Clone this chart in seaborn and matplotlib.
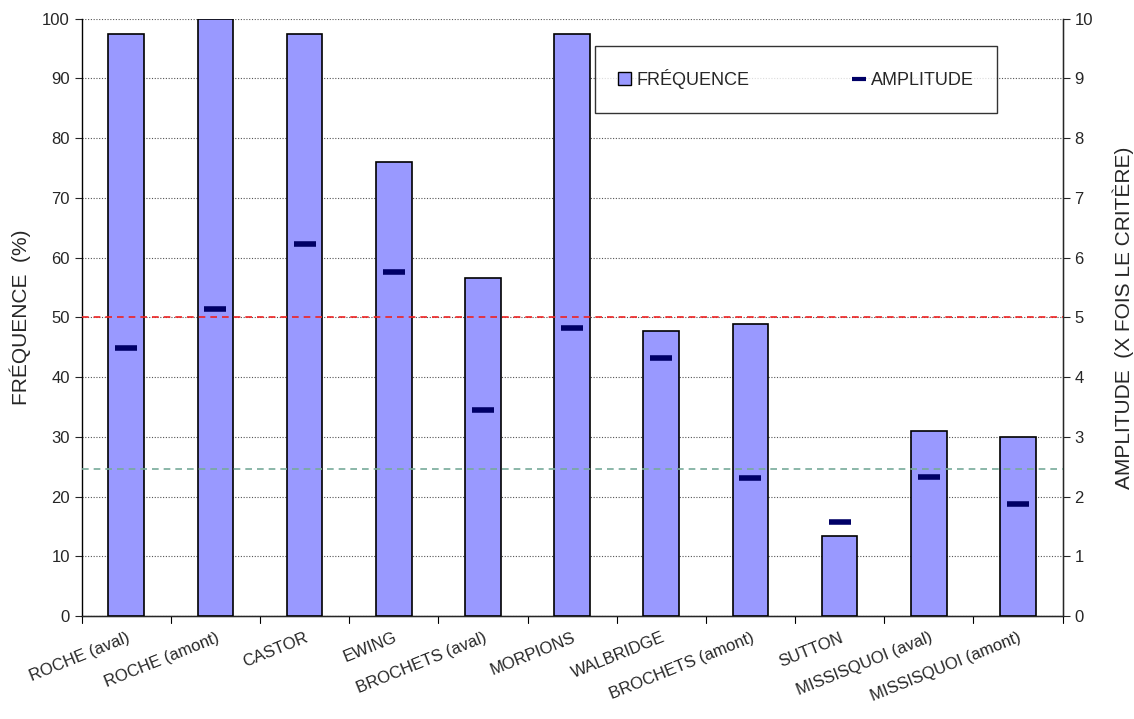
import matplotlib
matplotlib.use("Agg")
import matplotlib.pyplot as plt
import seaborn as sns
import pandas as pd
import numpy as np
from matplotlib.lines import Line2D
from matplotlib.patches import Patch

# stations, frequency (%) and amplitude (x criterion)
stations = ["ROCHE (aval)", "ROCHE (amont)", "CASTOR", "EWING", "BROCHETS (aval)",
            "MORPIONS", "WALBRIDGE", "BROCHETS (amont)", "SUTTON",
            "MISSISQUOI (aval)", "MISSISQUOI (amont)"]
frequence = [97.5, 100, 97.5, 76, 56.6, 97.5, 47.7, 48.9, 13.4, 31.0, 30.0]
amplitude = [4.49, 5.14, 6.23, 5.76, 3.45, 4.82, 4.32, 2.31, 1.57, 2.33, 1.88]
seuil_rouge = 50
seuil_vert = 24.6

df = pd.DataFrame({"station": stations, "frequence": frequence, "amplitude": amplitude})

sns.set_style("white")
plt.rcParams['font.family'] = ['Liberation Sans', 'DejaVu Sans']

fig, ax = plt.subplots(figsize=(11.34, 7.19), dpi=100)
fig.subplots_adjust(left=0.072, right=0.937, top=0.974, bottom=0.143)

sns.barplot(data=df, x="station", y="frequence", color="#9999FF", saturation=1,
            edgecolor="black", linewidth=1.2, width=0.4, ax=ax, zorder=3)
ax.set_ylim(0, 100)
ax.set_xlim(-0.5, len(stations) - 0.5)
ax.set_yticks(np.arange(0, 101, 10))
ax.yaxis.grid(True, color="#555555", linestyle=(0, (1, 1.5)), linewidth=0.8)
ax.set_axisbelow(True)
ax.axhline(seuil_rouge, color="#ee2222", linestyle=(0, (4, 3)), linewidth=1.2, zorder=4)
ax.axhline(seuil_vert, color="#77aa99", linestyle=(0, (4, 3)), linewidth=1.2, zorder=4)

ax.set_xlabel("")
ax.set_ylabel("FRÉQUENCE  (%)", fontsize=15, labelpad=8)
ax.set_xticks(np.arange(len(stations)))
ax.set_xticklabels(stations, rotation=22, ha="right", rotation_mode="anchor", fontsize=12)
ax.tick_params(axis="x", length=0, pad=10)
ax.tick_params(axis="y", labelsize=12, length=5, direction="out", left=True)
# tick marks between categories
for xb in np.arange(-0.5, len(stations), 1.0):
    ax.plot([xb, xb], [0, -1.2], color="black", linewidth=0.8, clip_on=False, zorder=5)

ax.spines["top"].set_visible(False)
for s in ["left", "bottom", "right"]:
    ax.spines[s].set_color("black")
    ax.spines[s].set_linewidth(1.0)

ax2 = ax.twinx()
sns.scatterplot(data=df, x="station", y="amplitude", marker="_", s=260, linewidth=4,
                color="#000066", ax=ax2, zorder=6, legend=False)
ax2.set_ylim(0, 10)
ax2.set_yticks(np.arange(0, 11, 1))
ax2.set_ylabel("AMPLITUDE  (X FOIS LE CRITÈRE)", fontsize=15, labelpad=14)
ax2.tick_params(axis="y", labelsize=12, length=5, direction="out", right=True)
ax2.spines["top"].set_visible(False)
ax2.spines["left"].set_visible(False)

handles = [Patch(facecolor="#9999FF", edgecolor="black", label="FRÉQUENCE"),
           Line2D([], [], color="#000066", marker="_", linestyle="none",
                  markersize=10, markeredgewidth=3, label="AMPLITUDE")]
leg = ax2.legend(handles=handles, loc="upper left", mode="expand",
                 bbox_to_anchor=(0.523, 0.955, 0.41, 0.0),
                 ncol=2, frameon=True, fancybox=False, fontsize=13,
                 handlelength=0.7, handletextpad=0.3,
                 borderpad=1.3, borderaxespad=0, edgecolor="black")
leg.get_frame().set_linewidth(1.0)

fig.savefig("out.png", dpi=100)
